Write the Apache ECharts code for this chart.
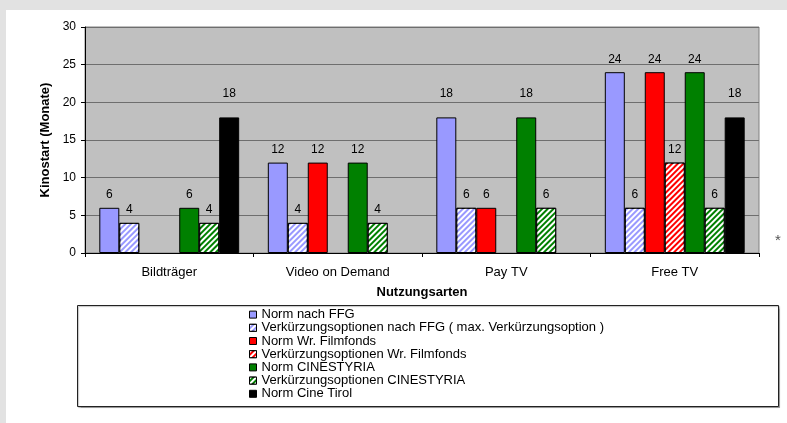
<!DOCTYPE html>
<html><head><meta charset="utf-8">
<script src="https://cdn.jsdelivr.net/npm/echarts@6/dist/echarts.min.js"></script>
<style>html,body{margin:0;padding:0;background:#e2e2e2;}#c{width:787px;height:423px;}</style>
</head><body><div id="c"></div>
<script>
const categories = ['Bildträger', 'Video on Demand', 'Pay TV', 'Free TV'];
const seriesNames = [
  'Norm nach FFG',
  'Verkürzungsoptionen nach FFG ( max. Verkürzungsoption )',
  'Norm Wr. Filmfonds',
  'Verkürzungsoptionen Wr. Filmfonds',
  'Norm CINESTYRIA',
  'Verkürzungsoptionen CINESTYRIA',
  'Norm Cine Tirol'
];
const normFFG = [6, 12, 18, 24];
const verkFFG = [4, 4, 6, 6];
const normWr = [null, 12, 6, 24];
const verkWr = [null, null, null, 12];
const normCine = [6, 12, 18, 24];
const verkCine = [4, 4, 6, 6];
const normTirol = [18, null, null, 18];
const yTicks = [0, 5, 10, 15, 20, 25, 30];

const values = [normFFG, verkFFG, normWr, verkWr, normCine, verkCine, normTirol];
const colors = ['#9999FF', '#9999FF', '#FF0000', '#FF0000', '#008000', '#008000', '#000000'];
const hatched = [false, true, false, true, false, true, false];
const FONT = 'Liberation Sans, Arial, sans-serif';

const chart = echarts.init(document.getElementById('c'), null, {renderer: 'canvas'});

const series = values.map((vals, i) => {
  const itemStyle = {color: colors[i], borderColor: '#000', borderWidth: 1};
  if (hatched[i]) {
    itemStyle.decal = {
      symbol: 'rect', symbolSize: 1, color: '#ffffff',
      dashArrayX: [1, 0], dashArrayY: [1.3, 1.7], rotation: -Math.PI / 4
    };
  }
  return {
    name: seriesNames[i],
    type: 'bar',
    barGap: '0%',
    barCategoryGap: '17%',
    data: vals.map(v => v == null ? '-' : {
      value: v,
      label: {distance: v === 18 ? 18 : 7}
    }),
    itemStyle: itemStyle,
    label: {
      show: true, position: 'top', color: '#000',
      fontFamily: FONT, fontSize: 12
    }
  };
});

chart.setOption({
  animation: false,
  backgroundColor: '#e2e2e2',
  graphic: [
    {type: 'rect', left: 6, top: 10, shape: {width: 781, height: 413}, style: {fill: '#ffffff'}, z: -10, silent: true},
    {type: 'rect', left: 77, top: 305, shape: {width: 701, height: 101},
     style: {fill: '#ffffff', stroke: '#222', lineWidth: 1, shadowColor: 'rgba(0,0,0,0.25)', shadowOffsetX: 1, shadowOffsetY: 1, shadowBlur: 1}, z: 0, silent: true},
    {type: 'text', left: 775, top: 233, style: {text: '*', fill: '#555', fontSize: 15, fontFamily: FONT}}
  ],
  grid: {
    left: 85, top: 27, right: 28, bottom: 170,
    show: true, backgroundColor: '#C0C0C0', borderColor: '#808080', borderWidth: 1
  },
  legend: {
    orient: 'vertical', left: 249, top: 308,
    padding: 0, itemGap: 0, itemWidth: 7, itemHeight: 7, icon: 'rect',
    itemStyle: {borderColor: '#000', borderWidth: 1},
    textStyle: {fontFamily: FONT, fontSize: 13, color: '#000', lineHeight: 13.2},
    data: seriesNames, z: 5
  },
  xAxis: {
    type: 'category', data: categories,
    name: 'Nutzungsarten', nameLocation: 'middle', nameGap: 33,
    nameTextStyle: {fontFamily: FONT, fontSize: 13, fontWeight: 'bold', color: '#000'},
    axisLine: {lineStyle: {color: '#000', width: 1}},
    axisTick: {show: true, length: 4, lineStyle: {color: '#000'}},
    axisLabel: {fontFamily: FONT, fontSize: 13, color: '#000', margin: 13},
    splitLine: {show: false}
  },
  yAxis: {
    type: 'value', min: yTicks[0], max: yTicks[yTicks.length - 1], interval: yTicks[1] - yTicks[0],
    name: 'Kinostart (Monate)', nameLocation: 'middle', nameGap: 31,
    nameTextStyle: {fontFamily: FONT, fontSize: 13, fontWeight: 'bold', color: '#000'},
    axisLine: {show: true, lineStyle: {color: '#000', width: 1}},
    axisTick: {show: true, length: 4, lineStyle: {color: '#000'}},
    axisLabel: {fontFamily: FONT, fontSize: 12, color: '#000', margin: 9},
    splitLine: {show: true, lineStyle: {color: '#6e6e6e', width: 1}}
  },
  series: series
});
</script>
</body></html>
